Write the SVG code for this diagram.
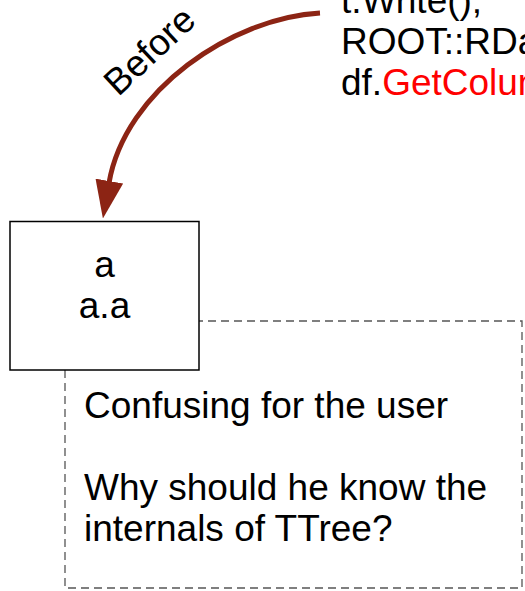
<svg xmlns="http://www.w3.org/2000/svg" width="525" height="591" viewBox="0 0 525 591">
  <style>
    text { font-family: "Liberation Sans", Arial, sans-serif; font-size: 37px; fill: #000; }
    .mid { text-anchor: middle; }
    .hl { fill: #ff0000; }
    .node { fill: #fff; stroke: #000; stroke-width: 1.5; }
    .note { fill: #fff; stroke: #555; stroke-width: 1.3; stroke-dasharray: 8 5; }
    .flow { fill: none; stroke: #8c2414; stroke-width: 5; }
  </style>
  <defs>
    <marker id="head" markerUnits="userSpaceOnUse" viewBox="0 0 38 28" markerWidth="38" markerHeight="28" refX="2" refY="14" orient="auto">
      <path d="M0,0 L38,14 L0,28 z" fill="#8c2414"/>
    </marker>
  </defs>

  <!-- code snippet (runs off the right edge) -->
  <g id="code">
    <text x="341" y="13">t.Write();</text>
    <text x="341" y="54">ROOT::RDataFrame</text>
    <text x="341" y="95">df.<tspan class="hl">GetColumnNames</tspan></text>
  </g>

  <!-- annotation note, sits behind the node -->
  <g id="note">
    <rect class="note" x="65" y="321" width="457" height="267"/>
    <text x="84" y="418">Confusing for the user</text>
    <text x="84" y="500">Why should he know the</text>
    <text x="84" y="541">internals of TTree?</text>
  </g>

  <!-- branch node -->
  <g id="branches">
    <rect class="node" x="10" y="221.5" width="189" height="148.5"/>
    <text class="mid" x="104.5" y="277">a</text>
    <text class="mid" x="104.5" y="318">a.a</text>
  </g>

  <!-- connectors -->
  <g id="connectors">
    <path class="flow" d="M320,13 C232,18 125,90 109,183" marker-end="url(#head)"/>
    <text class="mid" x="158" y="60" transform="rotate(-43 158 60)">Before</text>
  </g>
</svg>
